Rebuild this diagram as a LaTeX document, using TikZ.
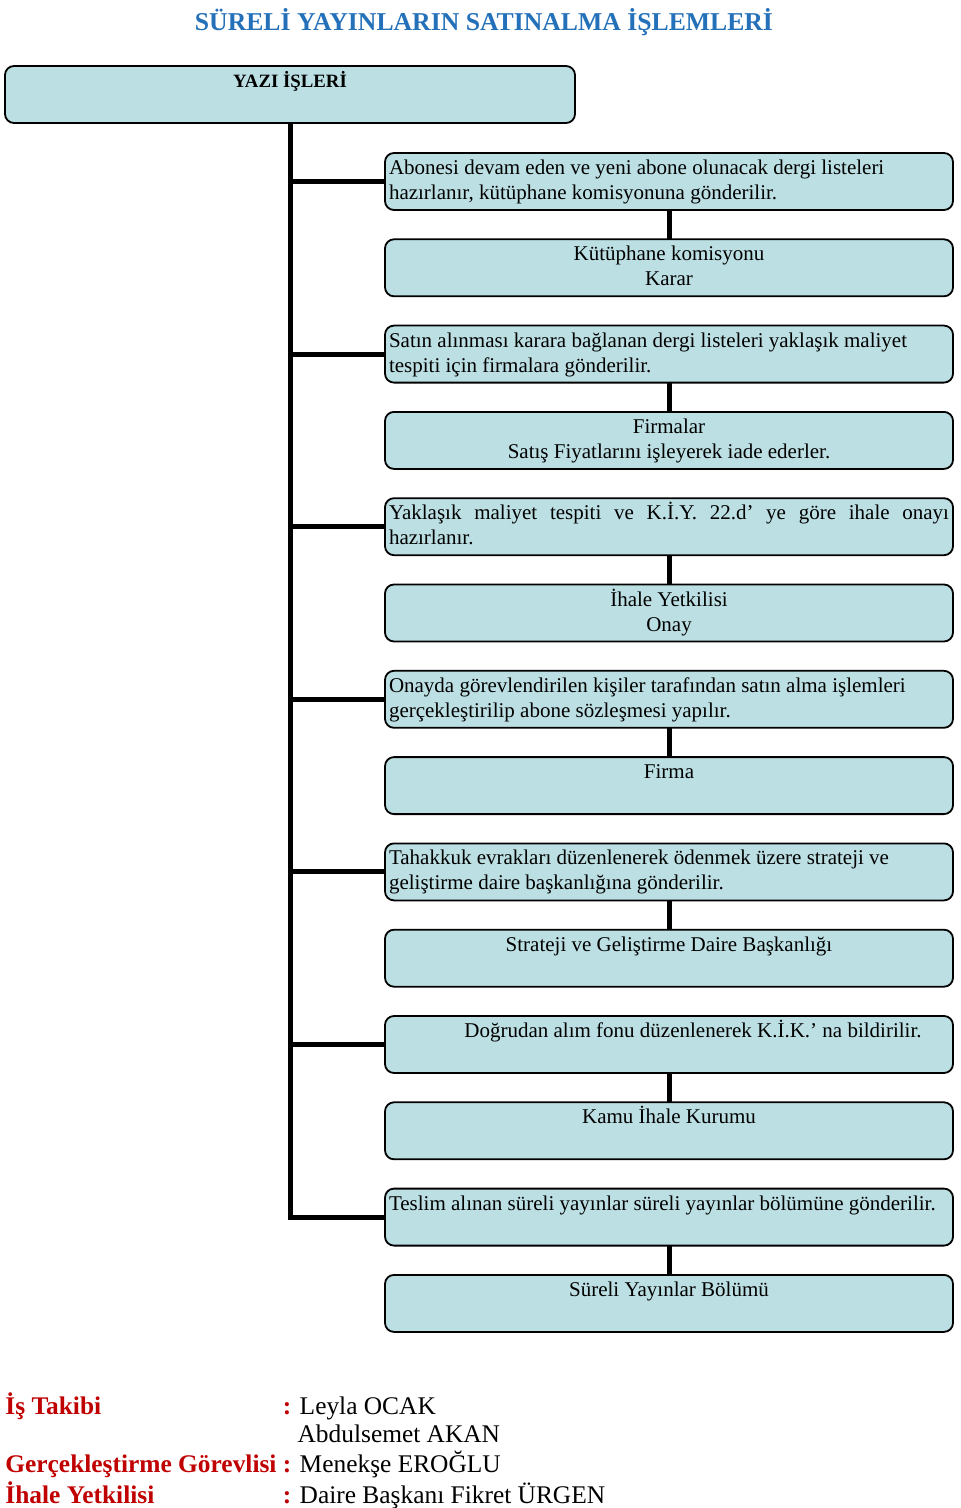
\documentclass[tikz,border=0pt]{standalone}
\usepackage{fontspec}
\setmainfont{Liberation Serif}
\usepackage{tikz}
\usetikzlibrary{positioning}
\usepackage{xcolor}
\definecolor{boxfill}{RGB}{188,223,227}
\definecolor{titleblue}{RGB}{36,113,185}
\definecolor{footred}{RGB}{192,0,0}
\tikzstyle{stepbox} = [draw=black, fill=boxfill, line width=0.9pt,
    rectangle, rounded corners=4.5pt, inner xsep=2pt, inner ysep=2pt, outer sep=0pt,
    minimum width=284pt, minimum height=28.5pt, font=\fontsize{10.5}{12.5}\selectfont]
\tikzstyle{headbox} = [stepbox, minimum width=285pt, font=\fontsize{9.4}{12.5}\selectfont\bfseries]
\tikzstyle{link} = [line width=2.5pt, black]
\newcommand{\boxtext}[2]{\begin{minipage}[t][24.5pt][t]{280pt}#1\strut #2\end{minipage}}
\newcommand{\footlabel}[1]{\textcolor{footred}{\bfseries #1}}

\begin{document}
\begin{tikzpicture}[x=0.5pt, y=-0.5pt]
\useasboundingbox (0,0) rectangle (960,1508);
\node[font=\fontsize{12.85}{15}\selectfont\bfseries, text=titleblue, anchor=base] (title) at (484,31) {SÜRELİ YAYINLARIN SATINALMA İŞLEMLERİ};
\node[headbox, anchor=north west] (yazi) at (5,66) {\boxtext{\centering}{YAZI İŞLERİ}};

\node[stepbox, anchor=north west] (s1) at (385,153) {\boxtext{\raggedright}{Abonesi devam eden ve yeni abone olunacak dergi listeleri\\ hazırlanır, kütüphane komisyonuna gönderilir.}};
\node[stepbox, below=14.65pt of s1] (s2) {\boxtext{\centering}{Kütüphane komisyonu\\ Karar}};
\node[stepbox, below=14.65pt of s2] (s3) {\boxtext{\raggedright}{Satın alınması karara bağlanan dergi listeleri yaklaşık maliyet\\ tespiti için firmalara gönderilir.}};
\node[stepbox, below=14.65pt of s3] (s4) {\boxtext{\centering}{Firmalar\\ Satış Fiyatlarını işleyerek iade ederler.}};
\node[stepbox, below=14.65pt of s4] (s5) {\boxtext{}{Yaklaşık maliyet tespiti ve K.İ.Y. 22.d’ ye göre ihale onayı\linebreak hazırlanır.}};
\node[stepbox, below=14.65pt of s5] (s6) {\boxtext{\centering}{İhale Yetkilisi\\ Onay}};
\node[stepbox, below=14.65pt of s6] (s7) {\boxtext{\raggedright}{Onayda görevlendirilen kişiler tarafından satın alma işlemleri\\ gerçekleştirilip abone sözleşmesi yapılır.}};
\node[stepbox, below=14.65pt of s7] (s8) {\boxtext{\centering}{Firma}};
\node[stepbox, below=14.65pt of s8] (s9) {\boxtext{\raggedright}{Tahakkuk evrakları düzenlenerek ödenmek üzere strateji ve\\ geliştirme daire başkanlığına gönderilir.}};
\node[stepbox, below=14.65pt of s9] (s10) {\boxtext{\centering}{Strateji ve Geliştirme Daire Başkanlığı}};
\node[stepbox, below=14.65pt of s10] (s11) {\boxtext{\centering\hspace*{24pt}}{Doğrudan alım fonu düzenlenerek K.İ.K.’ na bildirilir.}};
\node[stepbox, below=14.65pt of s11] (s12) {\boxtext{\centering}{Kamu İhale Kurumu}};
\node[stepbox, below=14.65pt of s12] (s13) {\boxtext{\raggedright}{Teslim alınan süreli yayınlar süreli yayınlar bölümüne gönderilir.}};
\node[stepbox, below=14.65pt of s13] (s14) {\boxtext{\centering}{Süreli Yayınlar Bölümü}};

\draw[link] (yazi.south) |- (s13.west);
\foreach \n in {s1,s3,s5,s7,s9,s11}
    \draw[link] (yazi.south |- \n.west) -- (\n.west);
\foreach \a/\b in {s1/s2,s3/s4,s5/s6,s7/s8,s9/s10,s11/s12,s13/s14}
    \draw[link] (\a.south) -- (\b.north);

\node[anchor=north west, inner sep=0pt, font=\fontsize{12.7}{14.3}\selectfont] (footer) at (5,1392) {%
\begin{tabular}[t]{@{}l@{\ }l@{}}
\footlabel{İş Takibi} & \footlabel{:} Leyla OCAK\\
 & \phantom{\footlabel{:}} Abdulsemet AKAN\\
\footlabel{Gerçekleştirme Görevlisi} & \footlabel{:} Menekşe EROĞLU\\
\footlabel{İhale Yetkilisi} & \footlabel{:} Daire Başkanı Fikret ÜRGEN
\end{tabular}};
\end{tikzpicture}
\end{document}
